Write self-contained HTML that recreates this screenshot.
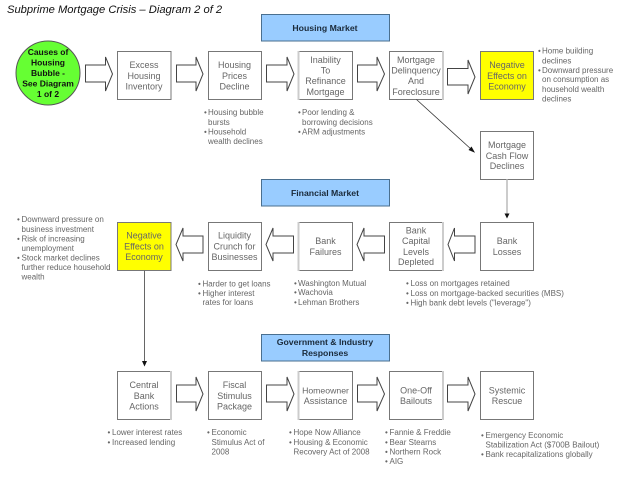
<!DOCTYPE html>
<html><head><meta charset="utf-8"><style>
html,body{margin:0;padding:0;background:#fff}
svg{display:block;font-family:"Liberation Sans",sans-serif}
.b{fill:#fff;stroke:#777;stroke-width:1}
.y{fill:#ff0;stroke:#777;stroke-width:1}
.h{fill:#99ccff;stroke:#4a6f8f;stroke-width:1}
.a{fill:#fff;stroke:#444;stroke-width:1}
.t{font-size:9px;fill:#666;text-anchor:middle}
.l{font-size:8px;fill:#666}
.hd{font-size:8.7px;font-weight:bold;fill:#1a2a3a;text-anchor:middle}
.e{stroke:#ccc;stroke-width:2}
</style></head><body>
<svg width="640" height="480" viewBox="0 0 640 480" xmlns="http://www.w3.org/2000/svg">
<text x="7" y="13" font-size="11.200" font-style="italic" fill="#111">Subprime Mortgage Crisis – Diagram 2 of 2</text>

<rect class="h" x="261.500" y="14.500" width="128" height="26.500"/>
<rect class="h" x="261.500" y="179.500" width="128" height="26.500"/>
<rect class="h" x="261.500" y="334.500" width="128" height="26.500"/>
<text class="hd" x="325" y="31">Housing Market</text>
<text class="hd" x="325" y="196">Financial Market</text>
<text class="hd" x="325" y="345">Government &amp; Industry</text>
<text class="hd" x="325" y="356">Responses</text>

<ellipse cx="48" cy="73" rx="32" ry="32" fill="#66ff33" stroke="#555"/>
<g class="t" style="font-weight:bold;fill:#111;font-size:8.500px">
<text x="48" y="55">Causes of</text><text x="48" y="65.500">Housing</text><text x="48" y="76">Bubble -</text><text x="48" y="86.500">See Diagram</text><text x="48" y="97">1 of 2</text>
</g>

<!-- row 1 boxes -->
<rect class="b" x="117.500" y="51.500" width="53.500" height="48"/>
<rect class="b" x="208.500" y="51.500" width="53" height="48"/>
<rect class="b" x="298.500" y="51.500" width="54" height="48"/>
<rect class="b" x="389.500" y="51.500" width="53.500" height="48"/>
<rect class="y" x="480.500" y="51.500" width="53" height="48"/>
<rect class="b" x="480.500" y="131.500" width="53" height="48"/>
<!-- row 2 boxes -->
<rect class="y" x="117.500" y="222.500" width="53.500" height="48"/>
<rect class="b" x="208.500" y="222.500" width="53" height="48"/>
<rect class="b" x="298.500" y="222.500" width="54" height="48"/>
<rect class="b" x="389.500" y="222.500" width="53.500" height="48"/>
<rect class="b" x="480.500" y="222.500" width="53" height="48"/>
<!-- row 3 boxes -->
<rect class="b" x="117.500" y="371.500" width="53.500" height="48"/>
<rect class="b" x="208.500" y="371.500" width="53" height="48"/>
<rect class="b" x="298.500" y="371.500" width="54" height="48"/>
<rect class="b" x="389.500" y="371.500" width="53.500" height="48"/>
<rect class="b" x="480.500" y="371.500" width="53" height="48"/>
<line class="e" x1="443" y1="51" x2="443" y2="100"/>
<line class="e" x1="443" y1="222" x2="443" y2="271"/>
<line class="e" x1="443" y1="371" x2="443" y2="420"/>
<line class="e" x1="171" y1="371" x2="171" y2="420"/>
<line class="e" x1="298.500" y1="222" x2="298.500" y2="271"/>
<line class="e" x1="298.500" y1="371" x2="298.500" y2="420"/>
<line class="e" x1="298.500" y1="51" x2="298.500" y2="100"/>

<!-- block arrows row 1 -->
<path class="a" d="M85.500 65H105.500V57L112.500 74L105.500 91V82H85.500Z"/>
<path class="a" d="M176.500 65H196V57L203 74L196 91V82H176.500Z"/>
<path class="a" d="M266.500 65H287V57L294 74L287 91V82H266.500Z"/>
<path class="a" d="M357.500 65H377V57L384.500 74L377 91V82H357.500Z"/>
<path class="a" d="M447.500 68.500H468V60L475 77L468 94V85H447.500Z"/>
<!-- row 2 -->
<path class="a" d="M475 236H454.500V228L448 244.500L454.500 261V253H475Z"/>
<path class="a" d="M384.500 236H364V228L357 244.500L364 261V253H384.500Z"/>
<path class="a" d="M293.500 236H273V228L266 244.500L273 261V253H293.500Z"/>
<path class="a" d="M203 236H183V228L176 244.500L183 261V253H203Z"/>
<!-- row 3 -->
<path class="a" d="M176.500 385H196V377L203 394L196 411V402H176.500Z"/>
<path class="a" d="M266.500 385H287V377L294 394L287 411V402H266.500Z"/>
<path class="a" d="M357.500 385H377V377L384.500 394L377 411V402H357.500Z"/>
<path class="a" d="M447.500 385H468V377L475 394L468 411V402H447.500Z"/>

<!-- connectors -->
<line x1="416.500" y1="99.500" x2="472" y2="150" stroke="#333" stroke-width="0.800"/>
<path d="M475 152.700L468.500 150L471.500 146.500Z" fill="#111"/>
<line x1="507" y1="179.500" x2="507" y2="214" stroke="#ccc" stroke-width="2"/>
<path d="M504.500 213.500H509.500L507 218.500Z" fill="#111"/>
<line x1="144.500" y1="270.500" x2="144.500" y2="362" stroke="#666" stroke-width="1"/>
<path d="M142 361H147L144.500 366.500Z" fill="#111"/>

<!-- box labels -->
<g class="t">
<text x="144" y="68">Excess</text><text x="144" y="79">Housing</text><text x="144" y="89.500">Inventory</text>
<text x="234.500" y="68">Housing</text><text x="234.500" y="79">Prices</text><text x="234.500" y="89.500">Decline</text>
<text x="325.500" y="63">Inability</text><text x="325.500" y="73.500">To</text><text x="325.500" y="84">Refinance</text><text x="325.500" y="95">Mortgage</text>
<text x="416" y="63">Mortgage</text><text x="416" y="73.500">Delinquency</text><text x="416" y="84">And</text><text x="416" y="95">Foreclosure</text>
<text x="507" y="68">Negative</text><text x="507" y="79">Effects on</text><text x="507" y="89.500">Economy</text>
<text x="507" y="148">Mortgage</text><text x="507" y="159">Cash Flow</text><text x="507" y="169">Declines</text>

<text x="144" y="238.500">Negative</text><text x="144" y="249.500">Effects on</text><text x="144" y="260">Economy</text>
<text x="234.500" y="238.500">Liquidity</text><text x="234.500" y="249.500">Crunch for</text><text x="234.500" y="260">Businesses</text>
<text x="325.500" y="244">Bank</text><text x="325.500" y="255">Failures</text>
<text x="416" y="233.500">Bank</text><text x="416" y="244">Capital</text><text x="416" y="255">Levels</text><text x="416" y="265">Depleted</text>
<text x="507" y="244">Bank</text><text x="507" y="255">Losses</text>

<text x="144" y="388">Central</text><text x="144" y="399">Bank</text><text x="144" y="409.500">Actions</text>
<text x="234.500" y="388">Fiscal</text><text x="234.500" y="399">Stimulus</text><text x="234.500" y="409.500">Package</text>
<text x="325.500" y="393.500" style="font-size:8.700px">Homeowner</text><text x="325.500" y="404">Assistance</text>
<text x="416" y="393.500">One-Off</text><text x="416" y="404">Bailouts</text>
<text x="507" y="393.500">Systemic</text><text x="507" y="404">Rescue</text>
</g>

<!-- bullets -->
<g class="l">
<text x="204" y="115">•</text><text x="208" y="115">Housing bubble</text><text x="208" y="125">bursts</text><text x="204" y="134.500">•</text><text x="208" y="134.500">Household</text><text x="208" y="144">wealth declines</text>
<text x="298" y="115">•</text><text x="302" y="115">Poor lending &amp;</text><text x="302" y="125">borrowing decisions</text><text x="298" y="134.500">•</text><text x="302" y="134.500">ARM adjustments</text>
<text x="538" y="53.500">•</text><text x="542" y="53.500">Home building</text><text x="542" y="63.500">declines</text><text x="538" y="73">•</text><text x="542" y="73">Downward pressure</text><text x="542" y="82">on consumption as</text><text x="542" y="92">household wealth</text><text x="542" y="101.500">declines</text>

<text x="17" y="222">•</text><text x="21.500" y="222">Downward pressure on</text><text x="21.500" y="232">business investment</text><text x="17" y="241.500">•</text><text x="21.500" y="241.500">Risk of increasing</text><text x="21.500" y="251">unemployment</text><text x="17" y="260.500">•</text><text x="21.500" y="260.500">Stock market declines</text><text x="21.500" y="270">further reduce household</text><text x="21.500" y="279.500">wealth</text>
<text x="198" y="286.500">•</text><text x="202.500" y="286.500">Harder to get loans</text><text x="198" y="296">•</text><text x="202.500" y="296">Higher interest</text><text x="202.500" y="305">rates for loans</text>
<text x="294" y="286">•</text><text x="298" y="286">Washington Mutual</text><text x="294" y="295">•</text><text x="298" y="295">Wachovia</text><text x="294" y="305">•</text><text x="298" y="305">Lehman Brothers</text>
<text x="406" y="286">•</text><text x="410.500" y="286">Loss on mortgages retained</text><text x="406" y="296">•</text><text x="410.500" y="296">Loss on mortgage-backed securities (MBS)</text><text x="406" y="305.500">•</text><text x="410.500" y="305.500">High bank debt levels ("leverage")</text>

<text x="107.500" y="435">•</text><text x="112" y="435">Lower interest rates</text><text x="107.500" y="445">•</text><text x="112" y="445">Increased lending</text>
<text x="207" y="435">•</text><text x="211.500" y="435">Economic</text><text x="211.500" y="445">Stimulus Act of</text><text x="211.500" y="454.500">2008</text>
<text x="289" y="435">•</text><text x="293.500" y="435">Hope Now Alliance</text><text x="289" y="445">•</text><text x="293.500" y="445">Housing &amp; Economic</text><text x="293.500" y="454.500">Recovery Act of 2008</text>
<text x="385" y="435">•</text><text x="389.500" y="435">Fannie &amp; Freddie</text><text x="385" y="445">•</text><text x="389.500" y="445">Bear Stearns</text><text x="385" y="454.500">•</text><text x="389.500" y="454.500">Northern Rock</text><text x="385" y="464">•</text><text x="389.500" y="464">AIG</text>
<text x="481" y="438">•</text><text x="485.500" y="438">Emergency Economic</text><text x="485.500" y="447.500">Stabilization Act ($700B Bailout)</text><text x="481" y="457">•</text><text x="485.500" y="457">Bank recapitalizations globally</text>
</g>
</svg>
</body></html>
